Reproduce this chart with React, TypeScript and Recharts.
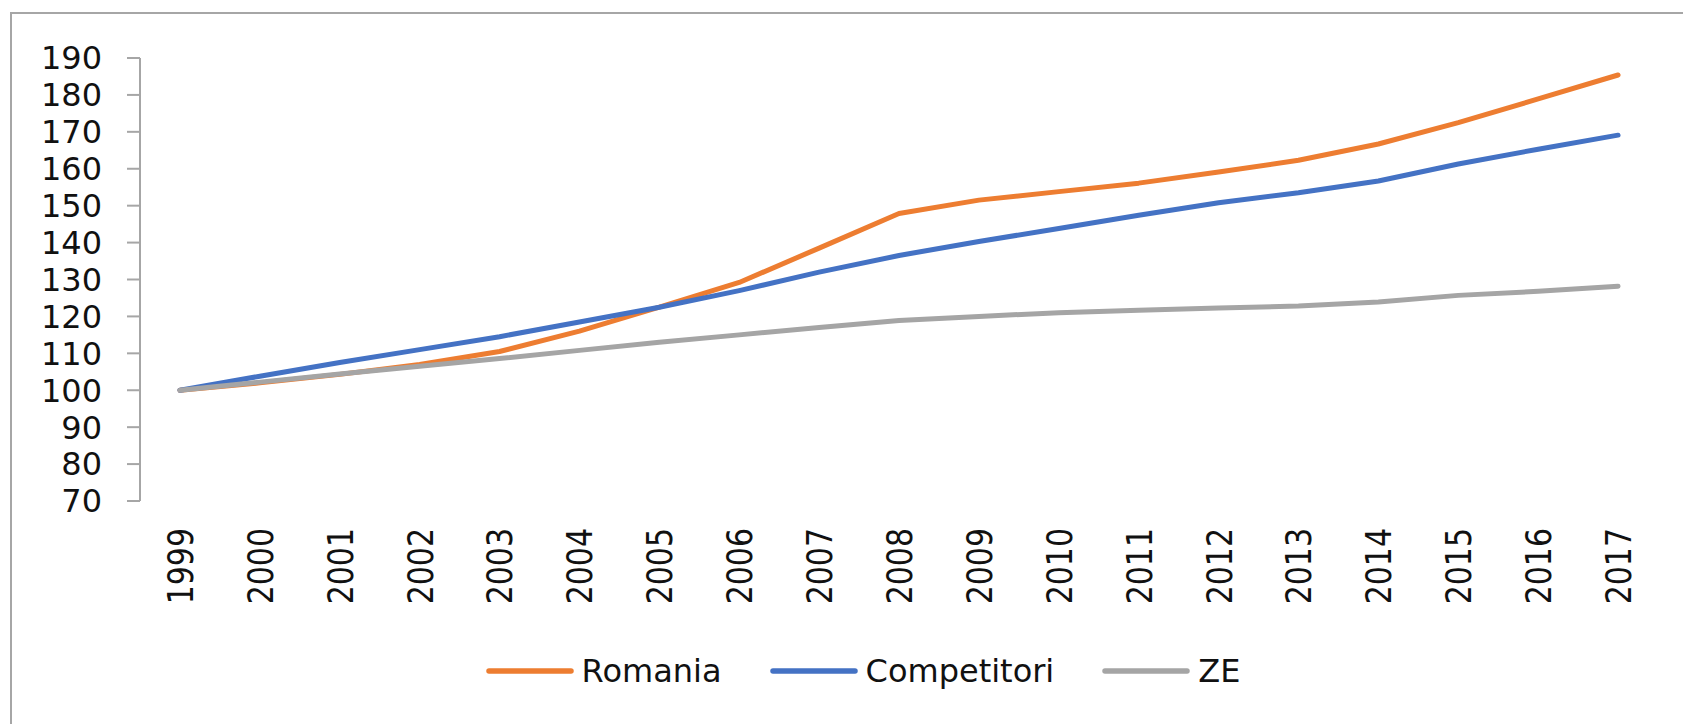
import { LineChart, Line, XAxis, YAxis, Legend } from "recharts";

const YEARS = [
  "1999", "2000", "2001", "2002", "2003", "2004", "2005", "2006", "2007", "2008",
  "2009", "2010", "2011", "2012", "2013", "2014", "2015", "2016", "2017",
];

const ROMANIA = [
  100, 102, 104.3, 107, 110.5, 116, 122.5, 129.2, 138.5, 147.9,
  151.5, 153.8, 156.1, 159.1, 162.3, 166.7, 172.5, 178.9, 185.4,
];
const COMPETITORI = [
  100, 103.8, 107.5, 111, 114.5, 118.5, 122.5, 127, 132, 136.5,
  140.3, 143.8, 147.4, 150.8, 153.5, 156.7, 161.3, 165.3, 169.1,
];
const ZE = [
  100, 102.2, 104.4, 106.5, 108.6, 110.8, 113, 115, 117, 118.9,
  120, 121, 121.7, 122.3, 122.8, 123.9, 125.7, 126.8, 128.2,
];

const Y_TICKS = [70, 80, 90, 100, 110, 120, 130, 140, 150, 160, 170, 180, 190];

const SERIES = [
  { key: "romania", name: "Romania", color: "#ED7D31" },
  { key: "competitori", name: "Competitori", color: "#4472C4" },
  { key: "ze", name: "ZE", color: "#A5A5A5" },
];

const FONT = "'DejaVu Sans', sans-serif";
const AXIS = "#a6a6a6";

const data = YEARS.map((year, i) => ({
  idx: i,
  year,
  romania: ROMANIA[i],
  competitori: COMPETITORI[i],
  ze: ZE[i],
}));

const centerTicks = YEARS.map((_, i) => i);
const edgeTicks = [...YEARS.map((_, i) => i - 0.5), YEARS.length - 0.5];

function YearTick(props: any) {
  const { x, y, payload } = props;
  return (
    <g transform={`translate(${x},${y})`}>
      <text
        transform="rotate(-90) scale(1,1.2)"
        textAnchor="end"
        dy="0.36em"
        fontSize={30}
        fontFamily={FONT}
        fill="#111"
      >
        {YEARS[payload.value]}
      </text>
    </g>
  );
}

// keep the series order, recharts sorts legend items by name otherwise
function LegendContent(props: any) {
  const items = [...(props.payload || [])].sort(
    (a: any, b: any) =>
      SERIES.findIndex((s) => s.name === a.value) - SERIES.findIndex((s) => s.name === b.value)
  );
  return (
    <div
      style={{
        display: "flex",
        justifyContent: "center",
        alignItems: "center",
        height: 44,
        paddingLeft: 28,
        fontFamily: FONT,
        fontSize: 32,
        color: "#111",
      }}
    >
      {items.map((item: any, i: number) => (
        <div
          key={item.value}
          style={{ display: "flex", alignItems: "center", marginLeft: i === 0 ? 0 : 48 }}
        >
          <svg width={88} height={10} style={{ marginRight: 8 }}>
            <line x1={3} y1={5} x2={85} y2={5} stroke={item.color} strokeWidth={5.5} strokeLinecap="round" />
          </svg>
          <span>{item.value}</span>
        </div>
      ))}
    </div>
  );
}

export default function App() {
  return (
    <div
      style={{
        position: "absolute",
        left: 0,
        top: 0,
        width: 1683,
        height: 724,
        overflow: "hidden",
        background: "#fff",
      }}
    >
      <div
        style={{
          position: "absolute",
          left: 10,
          top: 12,
          width: 1700,
          height: 740,
          border: "2px solid #a6a6a6",
        }}
      />
      <div style={{ position: "absolute", left: 0, top: 0 }}>
        <LineChart
          width={1683}
          height={724}
          data={data}
          margin={{ top: 58, right: 25, bottom: 31, left: 40 }}
        >
          <XAxis
            xAxisId="edges"
            type="number"
            domain={[-0.5, YEARS.length - 0.5]}
            ticks={edgeTicks}
            interval={0}
            tick={false}
            tickSize={14}
            height={0}
            axisLine={{ stroke: AXIS, strokeWidth: 2 }}
            tickLine={{ stroke: AXIS, strokeWidth: 2 }}
          />
          <XAxis
            xAxisId="years"
            type="number"
            dataKey="idx"
            domain={[-0.5, YEARS.length - 0.5]}
            ticks={centerTicks}
            interval={0}
            tick={<YearTick />}
            tickSize={0}
            tickMargin={27}
            tickLine={false}
            axisLine={false}
            height={148}
          />
          <YAxis
            domain={[70, 190]}
            ticks={Y_TICKS}
            interval={0}
            width={100}
            tickSize={13}
            tickMargin={25}
            axisLine={{ stroke: AXIS, strokeWidth: 2 }}
            tickLine={{ stroke: AXIS, strokeWidth: 2 }}
            tick={{ fontSize: 32, fontFamily: FONT, fill: "#111" }}
          />
          <Legend verticalAlign="bottom" content={<LegendContent />} wrapperStyle={{ height: 44 }} />
          {SERIES.map((s) => (
            <Line
              key={s.key}
              xAxisId="years"
              type="linear"
              dataKey={s.key}
              name={s.name}
              stroke={s.color}
              strokeWidth={5}
              strokeLinejoin="round"
              strokeLinecap="round"
              dot={false}
              activeDot={false}
              isAnimationActive={false}
            />
          ))}
        </LineChart>
      </div>
    </div>
  );
}
